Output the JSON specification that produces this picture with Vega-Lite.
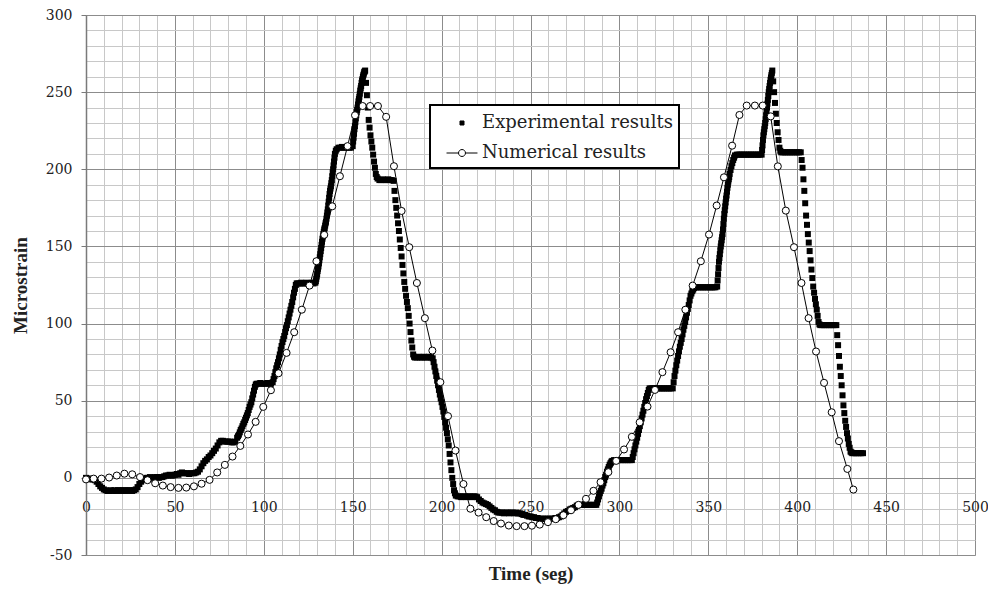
{
  "$schema": "https://vega.github.io/schema/vega-lite/v6.json",
  "autosize": {"type": "none"},
  "width": 889,
  "height": 540,
  "padding": {"left": 86, "top": 15, "right": 13, "bottom": 40},
  "background": "white",
  "config": {
    "view": {"stroke": "#8c8c8c", "strokeWidth": 1},
    "font": "DejaVu Serif",
    "legend": {"strokeWidth": 2, "symbolStrokeColor": "black", "symbolStrokeWidth": 1}
  },
  "datasets": {
    "exp": [
      {"t":0,"v":0},{"t":1,"v":-0.5},{"t":2,"v":-0.5},{"t":3,"v":-1},{"t":4,"v":-1},{"t":5,"v":-1.5},{"t":6,"v":-2.5},{"t":7,"v":-4},{"t":8,"v":-5.5},{"t":9,"v":-6.5},
      {"t":10,"v":-7.5},{"t":11,"v":-8},{"t":12,"v":-8.5},{"t":13,"v":-8.5},{"t":14,"v":-8},{"t":15,"v":-8.5},{"t":16,"v":-8},{"t":17,"v":-8.5},{"t":18,"v":-8},{"t":19,"v":-8},
      {"t":20,"v":-8.5},{"t":21,"v":-8},{"t":22,"v":-8},{"t":23,"v":-8.5},{"t":24,"v":-8},{"t":25,"v":-8},{"t":26,"v":-8.5},{"t":27,"v":-8},{"t":28,"v":-7.5},{"t":29,"v":-6},
      {"t":30,"v":-4},{"t":31,"v":-2.5},{"t":32,"v":-1.5},{"t":33,"v":-0.5},{"t":34,"v":0},{"t":35,"v":0},{"t":36,"v":0.5},{"t":37,"v":0},{"t":38,"v":0},{"t":39,"v":0.5},
      {"t":40,"v":0.5},{"t":41,"v":0},{"t":42,"v":0.5},{"t":43,"v":0.5},{"t":44,"v":1},{"t":45,"v":1.5},{"t":46,"v":1.5},{"t":47,"v":2},{"t":48,"v":1.5},{"t":49,"v":1.5},
      {"t":50,"v":2},{"t":51,"v":2.5},{"t":52,"v":2},{"t":53,"v":3},{"t":54,"v":3.5},{"t":55,"v":3},{"t":56,"v":3},{"t":57,"v":3},{"t":58,"v":2.5},{"t":59,"v":3},
      {"t":60,"v":3},{"t":61,"v":3},{"t":62,"v":3.5},{"t":63,"v":4},{"t":64,"v":5.5},{"t":65,"v":7.5},{"t":66,"v":9.5},{"t":67,"v":11},{"t":68,"v":12},{"t":69,"v":13.5},
      {"t":70,"v":14.5},{"t":71,"v":16},{"t":72,"v":17.5},{"t":73,"v":19},{"t":74,"v":21},{"t":75,"v":23},{"t":76,"v":24},{"t":77,"v":24},{"t":78,"v":23.5},{"t":79,"v":23.5},
      {"t":80,"v":23.5},{"t":81,"v":23.5},{"t":82,"v":23},{"t":83,"v":23},{"t":84,"v":23.5},
      {"t":85,"v":26},{"t":85.5,"v":27},{"t":86,"v":28},{"t":86.5,"v":29.5},{"t":87,"v":31},{"t":87.5,"v":32},{"t":88,"v":33.5},{"t":88.5,"v":35},{"t":89,"v":36},{"t":89.5,"v":37.5},
      {"t":90,"v":39},{"t":90.5,"v":40.5},{"t":91,"v":42},{"t":91.5,"v":44},{"t":92,"v":46},{"t":92.5,"v":47.5},{"t":93,"v":49},{"t":93.5,"v":51.5},{"t":94,"v":54},{"t":94.5,"v":56.5},
      {"t":95,"v":59},{"t":95.5,"v":60.5},{"t":96,"v":61},{"t":97,"v":61},{"t":98,"v":61.5},{"t":99,"v":61},
      {"t":100,"v":61},{"t":101,"v":61},{"t":102,"v":61.5},{"t":103,"v":61},{"t":104,"v":61},
      {"t":105,"v":62},{"t":105.5,"v":64},{"t":106,"v":66},{"t":106.5,"v":68.5},{"t":107,"v":71},{"t":107.5,"v":73},{"t":108,"v":75},{"t":108.5,"v":77.5},{"t":109,"v":80},{"t":109.5,"v":83},
      {"t":110,"v":85.5},{"t":110.5,"v":88},{"t":111,"v":90},{"t":111.5,"v":92},{"t":112,"v":94.5},{"t":112.5,"v":97},{"t":113,"v":99},{"t":113.5,"v":101.5},{"t":114,"v":104},{"t":114.5,"v":106.5},
      {"t":115,"v":109},{"t":115.5,"v":111.5},{"t":116,"v":114},{"t":116.5,"v":117},{"t":117,"v":120},{"t":117.5,"v":122.5},{"t":118,"v":125},{"t":118.5,"v":126},{"t":119,"v":126},
      {"t":120,"v":126},{"t":121,"v":126.5},{"t":122,"v":126},{"t":123,"v":126},{"t":124,"v":126.5},{"t":125,"v":126},{"t":126,"v":126},{"t":127,"v":126.5},{"t":128,"v":126},
      {"t":129,"v":126.5},{"t":129.25,"v":127.5},{"t":129.5,"v":129},{"t":129.75,"v":130.5},{"t":130,"v":132},{"t":130.25,"v":134},{"t":130.5,"v":135.5},{"t":130.75,"v":137},
      {"t":131,"v":139},{"t":131.25,"v":141},{"t":131.5,"v":143},{"t":131.75,"v":145},{"t":132,"v":147},{"t":132.25,"v":149},{"t":132.5,"v":151},{"t":132.75,"v":153},
      {"t":133,"v":155},{"t":133.25,"v":156.5},{"t":133.5,"v":158},{"t":133.75,"v":159.5},{"t":134,"v":161},{"t":134.25,"v":162},{"t":134.5,"v":163.5},{"t":134.75,"v":165},
      {"t":135,"v":166},{"t":135.25,"v":168},{"t":135.5,"v":170},{"t":135.75,"v":172},{"t":136,"v":174},{"t":136.25,"v":176.5},{"t":136.5,"v":179},{"t":136.75,"v":181.5},
      {"t":137,"v":184},{"t":137.25,"v":186},{"t":137.5,"v":187.5},{"t":137.75,"v":189},{"t":138,"v":191},{"t":138.25,"v":193},{"t":138.5,"v":195.5},{"t":138.75,"v":198},
      {"t":139,"v":200},{"t":139.25,"v":202.5},{"t":139.5,"v":205},{"t":139.75,"v":207.5},{"t":140,"v":210},{"t":140.5,"v":212},{"t":141,"v":213},{"t":142,"v":214},{"t":143,"v":214},{"t":144,"v":214.5},
      {"t":145,"v":214},{"t":146,"v":214},{"t":147,"v":214.5},{"t":148,"v":214},{"t":149,"v":214},
      {"t":150,"v":215},{"t":150.25,"v":218},{"t":150.5,"v":220.5},{"t":150.75,"v":223},{"t":151,"v":226},{"t":151.25,"v":228},{"t":151.5,"v":230.5},{"t":151.75,"v":233},
      {"t":152,"v":235},{"t":152.25,"v":237},{"t":152.5,"v":238.5},{"t":152.75,"v":240},{"t":153,"v":242},{"t":153.25,"v":244},{"t":153.5,"v":245.5},{"t":153.75,"v":247},
      {"t":154,"v":249},{"t":154.25,"v":251},{"t":154.5,"v":252.5},{"t":154.75,"v":254},{"t":155,"v":256},{"t":155.25,"v":257.5},{"t":155.5,"v":258.5},{"t":155.75,"v":260},
      {"t":156,"v":261},{"t":156.25,"v":262},{"t":156.5,"v":263},{"t":156.75,"v":263.5},{"t":157,"v":264},{"t":157.5,"v":256},{"t":158,"v":248},{"t":158.5,"v":240},{"t":159,"v":232},{"t":159.5,"v":227},
      {"t":160,"v":222},{"t":160.5,"v":218},{"t":161,"v":214},{"t":161.5,"v":209.5},{"t":162,"v":205},{"t":162.5,"v":201},{"t":163,"v":197},{"t":163.5,"v":195},{"t":164,"v":194},
      {"t":165,"v":193},{"t":166,"v":193},{"t":167,"v":193.5},{"t":168,"v":193},{"t":169,"v":193},{"t":170,"v":193.5},{"t":171,"v":193},{"t":172,"v":193},
      {"t":173,"v":192.5},{"t":173.5,"v":186},{"t":174,"v":180},{"t":174.5,"v":175},{"t":175,"v":170},{"t":175.5,"v":165},{"t":176,"v":160},{"t":176.5,"v":154.5},{"t":177,"v":149},{"t":177.5,"v":143.5},
      {"t":178,"v":138},{"t":178.5,"v":132.5},{"t":179,"v":127},{"t":179.5,"v":122.5},{"t":180,"v":118},{"t":180.5,"v":114},{"t":181,"v":110},{"t":181.5,"v":105},{"t":182,"v":100},{"t":182.5,"v":94.5},
      {"t":183,"v":89},{"t":183.5,"v":84.5},{"t":184,"v":80},{"t":184.5,"v":78.5},{"t":185,"v":78},{"t":186,"v":78},{"t":187,"v":78.5},{"t":188,"v":78},{"t":189,"v":78},
      {"t":190,"v":78.5},{"t":191,"v":78},{"t":192,"v":78},{"t":193,"v":78.5},{"t":194,"v":78},
      {"t":195,"v":77.5},{"t":195.5,"v":75},{"t":196,"v":72},{"t":196.5,"v":69},{"t":197,"v":66},{"t":197.5,"v":63},{"t":198,"v":60},{"t":198.5,"v":57},{"t":199,"v":54},{"t":199.5,"v":51.5},
      {"t":200,"v":49},{"t":200.5,"v":46},{"t":201,"v":43},{"t":201.5,"v":39.5},{"t":202,"v":36},{"t":202.5,"v":32.5},{"t":203,"v":29},{"t":203.5,"v":25},{"t":204,"v":21},{"t":204.5,"v":15.5},
      {"t":205,"v":10},{"t":205.5,"v":5},{"t":206,"v":0},{"t":206.5,"v":-4},{"t":207,"v":-8},{"t":207.5,"v":-10},{"t":208,"v":-11.5},{"t":209,"v":-12},
      {"t":210,"v":-12},{"t":211,"v":-12.5},{"t":212,"v":-12},{"t":213,"v":-12},{"t":214,"v":-12.5},{"t":215,"v":-12},{"t":216,"v":-12},{"t":217,"v":-12.5},{"t":218,"v":-12},{"t":219,"v":-12},
      {"t":220,"v":-12.5},{"t":221,"v":-14},{"t":222,"v":-15},{"t":223,"v":-16},{"t":224,"v":-16.5},{"t":225,"v":-17},{"t":226,"v":-17.5},{"t":227,"v":-18.5},{"t":228,"v":-19.5},{"t":229,"v":-20.5},
      {"t":230,"v":-21},{"t":231,"v":-22},{"t":232,"v":-22.5},{"t":233,"v":-22.5},{"t":234,"v":-22.5},{"t":235,"v":-23},{"t":236,"v":-22.5},{"t":237,"v":-22.5},{"t":238,"v":-23},{"t":239,"v":-22.5},
      {"t":240,"v":-22.5},{"t":241,"v":-23},{"t":242,"v":-22.5},{"t":243,"v":-23},{"t":244,"v":-23},{"t":245,"v":-23.5},{"t":246,"v":-24},{"t":247,"v":-24},{"t":248,"v":-24.5},{"t":249,"v":-25},
      {"t":250,"v":-25},{"t":251,"v":-25.5},{"t":252,"v":-25.5},{"t":253,"v":-26},{"t":254,"v":-26},{"t":255,"v":-26.5},{"t":256,"v":-26.5},{"t":257,"v":-26.5},{"t":258,"v":-26.5},{"t":259,"v":-26.5},
      {"t":260,"v":-26.5},{"t":261,"v":-26.5},{"t":262,"v":-26.5},{"t":263,"v":-26.5},{"t":264,"v":-26},{"t":265,"v":-26},{"t":266,"v":-25.5},{"t":267,"v":-25},{"t":268,"v":-24},{"t":269,"v":-23},
      {"t":270,"v":-22},{"t":271,"v":-21.5},{"t":272,"v":-20.5},{"t":273,"v":-20},{"t":274,"v":-19.5},{"t":275,"v":-19},{"t":276,"v":-18},{"t":277,"v":-17.5},{"t":278,"v":-17.5},{"t":279,"v":-17.5},
      {"t":280,"v":-17.5},{"t":281,"v":-17.5},{"t":282,"v":-17.5},{"t":283,"v":-17.5},{"t":284,"v":-17.5},{"t":285,"v":-17.5},{"t":286,"v":-17.5},
      {"t":287,"v":-17.5},{"t":287.5,"v":-16},{"t":288,"v":-14},{"t":288.5,"v":-12},{"t":289,"v":-10},{"t":289.5,"v":-8.5},{"t":290,"v":-7},{"t":290.5,"v":-5},{"t":291,"v":-3.5},{"t":291.5,"v":-1.5},
      {"t":292,"v":0.5},{"t":292.5,"v":2},{"t":293,"v":4},{"t":293.5,"v":5.5},{"t":294,"v":7},{"t":294.5,"v":8.5},{"t":295,"v":9.5},{"t":295.5,"v":10.5},{"t":296,"v":11},{"t":297,"v":11.5},
      {"t":298,"v":11.5},{"t":299,"v":11.5},{"t":300,"v":11.5},{"t":301,"v":11.5},{"t":302,"v":11.5},{"t":303,"v":11.5},{"t":304,"v":11.5},{"t":305,"v":11.5},{"t":306,"v":11.5},
      {"t":307,"v":11.5},{"t":307.5,"v":13.5},{"t":308,"v":16},{"t":308.5,"v":18.5},{"t":309,"v":21},{"t":309.5,"v":23.5},{"t":310,"v":26},{"t":310.5,"v":28.5},{"t":311,"v":31},{"t":311.5,"v":33.5},
      {"t":312,"v":36},{"t":312.5,"v":38.5},{"t":313,"v":41},{"t":313.5,"v":43.5},{"t":314,"v":46},{"t":314.5,"v":48.5},{"t":315,"v":51},{"t":315.5,"v":53},{"t":316,"v":55},{"t":316.5,"v":57},
      {"t":317,"v":58},{"t":318,"v":58},{"t":319,"v":58},{"t":320,"v":58},{"t":321,"v":58},{"t":322,"v":58},{"t":323,"v":58},{"t":324,"v":58},{"t":325,"v":58},{"t":326,"v":58},
      {"t":327,"v":58},{"t":328,"v":58},{"t":329,"v":58},
      {"t":330,"v":58},{"t":330.5,"v":62},{"t":331,"v":66},{"t":331.5,"v":69.5},{"t":332,"v":73},{"t":332.5,"v":76},{"t":333,"v":79},{"t":333.5,"v":82},{"t":334,"v":85},{"t":334.5,"v":87.5},
      {"t":335,"v":90},{"t":335.5,"v":93},{"t":336,"v":96},{"t":336.5,"v":98.5},{"t":337,"v":101},{"t":337.5,"v":104},{"t":338,"v":107},{"t":338.5,"v":109.5},{"t":339,"v":112},{"t":339.5,"v":115},
      {"t":340,"v":118},{"t":340.5,"v":119.5},{"t":341,"v":121},{"t":341.5,"v":122},{"t":342,"v":123},{"t":343,"v":123.5},{"t":344,"v":123.5},{"t":345,"v":123.5},{"t":346,"v":123.5},{"t":347,"v":123.5},
      {"t":348,"v":123.5},{"t":349,"v":123.5},{"t":350,"v":123.5},{"t":351,"v":123.5},{"t":352,"v":123.5},{"t":353,"v":123.5},{"t":354,"v":123.5},
      {"t":355,"v":124},{"t":355.25,"v":128},{"t":355.5,"v":132},{"t":355.75,"v":136},{"t":356,"v":140},{"t":356.25,"v":142.5},{"t":356.5,"v":145},{"t":356.75,"v":147.5},
      {"t":357,"v":150},{"t":357.25,"v":152},{"t":357.5,"v":154},{"t":357.75,"v":156},{"t":358,"v":158},{"t":358.25,"v":161},{"t":358.5,"v":164.5},{"t":358.75,"v":168},
      {"t":359,"v":171},{"t":359.25,"v":173.5},{"t":359.5,"v":176},{"t":359.75,"v":178.5},{"t":360,"v":181},{"t":360.25,"v":183},{"t":360.5,"v":185.5},{"t":360.75,"v":188},
      {"t":361,"v":190},{"t":361.25,"v":192},{"t":361.5,"v":193.5},{"t":361.75,"v":195},{"t":362,"v":197},{"t":362.5,"v":199.5},{"t":363,"v":202},{"t":363.5,"v":204},{"t":364,"v":206},{"t":364.5,"v":207.5},
      {"t":365,"v":209},{"t":366,"v":209.5},{"t":367,"v":209.5},{"t":368,"v":209.5},{"t":369,"v":209.5},{"t":370,"v":209.5},{"t":371,"v":209.5},{"t":372,"v":209.5},{"t":373,"v":209.5},{"t":374,"v":209.5},
      {"t":375,"v":209.5},{"t":376,"v":209.5},{"t":377,"v":209.5},{"t":378,"v":209.5},{"t":379,"v":209.5},
      {"t":380,"v":209.5},{"t":380.25,"v":212.5},{"t":380.5,"v":215.5},{"t":380.75,"v":219},{"t":381,"v":222},{"t":381.25,"v":224},{"t":381.5,"v":226},{"t":381.75,"v":228},
      {"t":382,"v":230},{"t":382.25,"v":232.5},{"t":382.5,"v":235},{"t":382.75,"v":237.5},{"t":383,"v":240},{"t":383.25,"v":242.5},{"t":383.5,"v":245},{"t":383.75,"v":247.5},
      {"t":384,"v":250},{"t":384.25,"v":252},{"t":384.5,"v":254},{"t":384.75,"v":256},{"t":385,"v":258},{"t":385.25,"v":259.5},{"t":385.5,"v":261},{"t":385.75,"v":262.5},
      {"t":386,"v":264},{"t":386.5,"v":257},{"t":387,"v":250},{"t":387.5,"v":243},{"t":388,"v":236},{"t":388.5,"v":230},{"t":389,"v":224},{"t":389.5,"v":219},{"t":390,"v":214},{"t":390.5,"v":212},
      {"t":391,"v":211},{"t":392,"v":211},{"t":393,"v":211},{"t":394,"v":211},{"t":395,"v":211},{"t":396,"v":211},{"t":397,"v":211},{"t":398,"v":211},{"t":399,"v":211},
      {"t":400,"v":211},{"t":401,"v":211},{"t":402,"v":211},{"t":402.5,"v":206},{"t":403,"v":201},{"t":403.5,"v":193.5},{"t":404,"v":186},{"t":404.5,"v":178},{"t":405,"v":170},{"t":405.5,"v":164},
      {"t":406,"v":158},{"t":406.5,"v":152.5},{"t":407,"v":147},{"t":407.5,"v":141},{"t":408,"v":135},{"t":408.5,"v":129.5},{"t":409,"v":124},{"t":409.5,"v":120},
      {"t":410,"v":116},{"t":410.5,"v":112.5},{"t":411,"v":109},{"t":411.5,"v":105},{"t":412,"v":101},{"t":412.5,"v":99.5},{"t":413,"v":99},{"t":414,"v":99},{"t":415,"v":99},{"t":416,"v":99},
      {"t":417,"v":99},{"t":418,"v":99},{"t":419,"v":99},{"t":420,"v":99},{"t":421,"v":99},
      {"t":422,"v":99},{"t":422.5,"v":92.5},{"t":423,"v":86},{"t":423.5,"v":79},{"t":424,"v":72},{"t":424.5,"v":66},{"t":425,"v":60},{"t":425.5,"v":53.5},{"t":426,"v":47},{"t":426.5,"v":42},
      {"t":427,"v":37},{"t":427.5,"v":33},{"t":428,"v":29},{"t":428.5,"v":25.5},{"t":429,"v":22},{"t":429.5,"v":19.5},{"t":430,"v":17},{"t":430.5,"v":16.5},
      {"t":431,"v":16},{"t":432,"v":16},{"t":433,"v":16},{"t":434,"v":16},{"t":435,"v":16},{"t":436,"v":16},{"t":437,"v":16}
    ],
    "num": [
      {"t":0,"v":-1},{"t":4.3,"v":-0.5},{"t":8.7,"v":-0.5},{"t":13.0,"v":0.2},{"t":17.3,"v":1.5},{"t":21.6,"v":2.7},{"t":26.0,"v":2.3},{"t":30.4,"v":0.5},{"t":34.6,"v":-1.5},{"t":38.9,"v":-3.5},
      {"t":43.2,"v":-5},{"t":47.6,"v":-6},{"t":52.0,"v":-6.5},{"t":56.4,"v":-6.3},{"t":60.7,"v":-5.5},{"t":65.0,"v":-3.8},{"t":69.5,"v":-1.3},{"t":73.8,"v":3.5},{"t":78.1,"v":8.4},{"t":82.4,"v":13.8},
      {"t":86.8,"v":20.7},{"t":91.1,"v":28.1},{"t":95.4,"v":36.3},{"t":99.7,"v":46},{"t":104.0,"v":56.8},{"t":108.3,"v":67.8},{"t":112.8,"v":81},{"t":117.1,"v":94.4},{"t":121.4,"v":109},{"t":125.7,"v":124.6},
      {"t":129.6,"v":140.4},{"t":134.0,"v":157.5},{"t":138.5,"v":176},{"t":142.8,"v":195.5},{"t":147.1,"v":215},{"t":151.3,"v":235},{"t":155.6,"v":241},{"t":159.8,"v":241},{"t":164.2,"v":241},{"t":168.8,"v":234},
      {"t":173.2,"v":202},{"t":177.5,"v":173},{"t":181.8,"v":149.5},{"t":186.1,"v":126.3},{"t":190.6,"v":103.5},{"t":194.8,"v":82.5},{"t":199.3,"v":62},{"t":203.6,"v":40},{"t":207.8,"v":17.7},{"t":212.3,"v":-4},
      {"t":216.2,"v":-20},{"t":220.8,"v":-22.5},{"t":225.1,"v":-25.5},{"t":229.3,"v":-28},{"t":233.4,"v":-29.6},{"t":237.8,"v":-30.9},{"t":242.2,"v":-31.3},{"t":246.6,"v":-31.3},{"t":250.8,"v":-31},{"t":255.2,"v":-30.3},
      {"t":259.8,"v":-28.7},{"t":264.2,"v":-26.8},{"t":268.5,"v":-24.2},{"t":272.8,"v":-21},{"t":277.0,"v":-17.5},{"t":281.2,"v":-13.6},{"t":285.4,"v":-8.4},{"t":289.4,"v":-2.8},{"t":293.8,"v":3.7},{"t":298.2,"v":11},
      {"t":302.6,"v":18.4},{"t":307.0,"v":26.6},{"t":311.4,"v":36},{"t":315.8,"v":46.2},{"t":320.0,"v":57},{"t":324.2,"v":68.5},{"t":328.8,"v":81.4},{"t":333.0,"v":94.4},{"t":337.1,"v":109},{"t":341.2,"v":124.6},
      {"t":345.8,"v":140.4},{"t":350.4,"v":157.7},{"t":354.7,"v":176.5},{"t":358.8,"v":194.8},{"t":363.4,"v":215.3},{"t":367.5,"v":235.2},{"t":371.6,"v":241.3},{"t":376.2,"v":241.3},{"t":380.6,"v":241.3},{"t":385.1,"v":234.3},
      {"t":389.1,"v":201.9},{"t":393.6,"v":173.2},{"t":398.2,"v":149.5},{"t":402.4,"v":126.3},{"t":406.4,"v":103.5},{"t":410.6,"v":81.9},{"t":415.1,"v":61.6},{"t":419.4,"v":42.5},{"t":423.5,"v":23.8},{"t":428.2,"v":5.8},
      {"t":431.6,"v":-7.6}
    ]
  },
  "layer": [
    {
      "data": {"name": "exp"},
      "mark": {"type": "point", "filled": true, "opacity": 1, "size": 1290},
      "encoding": {
        "x": {"field": "t", "type": "quantitative",
          "scale": {"domain": [0, 500], "nice": false, "zero": false},
          "axis": {"orient": "bottom", "values": [0,10,20,30,40,50,60,70,80,90,100,110,120,130,140,150,160,170,180,190,200,210,220,230,240,250,260,270,280,290,300,310,320,330,340,350,360,370,380,390,400,410,420,430,440,450,460,470,480,490,500],
            "grid": true, "gridColor": "#c8c8c8", "gridWidth": 1, "labels": false, "ticks": false, "domain": false, "title": null}},
        "y": {"field": "v", "type": "quantitative",
          "scale": {"domain": [-50, 300], "nice": false, "zero": false},
          "axis": {"orient": "left", "values": [-50,-40,-30,-20,-10,0,10,20,30,40,50,60,70,80,90,100,110,120,130,140,150,160,170,180,190,200,210,220,230,240,250,260,270,280,290,300],
            "grid": true, "gridColor": "#c8c8c8", "gridWidth": 1, "labels": false, "ticks": false, "domain": false, "title": null}},
        "shape": {"datum": "Experimental results",
          "scale": {"domain": ["Experimental results", "Numerical results"],
            "range": ["M-0.167,-0.167H0.167V0.167H-0.167Z", "M-1.29,0L-0.29,0M0.29,0L1.29,0M0.29,0A0.29,0.29,0,1,1,-0.29,0A0.29,0.29,0,1,1,0.29,0Z"]},
          "legend": {"title": null, "orient": "none", "legendX": 344, "legendY": 90, "direction": "vertical",
            "padding": 5.5, "symbolOffset": 14, "labelOffset": 7.5, "rowPadding": 8, "symbolSize": 576,
            "labelFont": "DejaVu Serif", "labelFontSize": 18,
            "labelColor": "#222222", "labelLimit": 400, "strokeColor": "black", "fillColor": "white"}},
        "fill": {"datum": "Experimental results",
          "scale": {"domain": ["Experimental results", "Numerical results"], "range": ["black", "white"]},
          "legend": {"title": null, "orient": "none", "legendX": 344, "legendY": 90, "direction": "vertical",
            "padding": 5.5, "symbolOffset": 14, "labelOffset": 7.5, "rowPadding": 8, "symbolSize": 576,
            "labelFont": "DejaVu Serif", "labelFontSize": 18,
            "labelColor": "#222222", "labelLimit": 400, "strokeColor": "black", "fillColor": "white"}}
      }
    },
    {
      "data": {"name": "num"},
      "mark": {"type": "line", "color": "black", "strokeWidth": 1},
      "encoding": {
        "x": {"field": "t", "type": "quantitative",
          "axis": {"orient": "bottom", "offset": -77, "values": [0,50,100,150,200,250,300,350,400,450,500],
            "grid": true, "gridColor": "#8c8c8c", "gridWidth": 1, "domain": false, "ticks": false,
            "labelPadding": 22, "labelFont": "DejaVu Serif", "labelFontSize": 14, "labelColor": "#222222",
            "labelFlush": false, "labelOverlap": false,
            "title": "Time (seg)", "titleFont": "Liberation Serif", "titleFontSize": 19, "titleFontWeight": "bold",
            "titleColor": "#222222", "titlePadding": 50}},
        "y": {"field": "v", "type": "quantitative",
          "axis": {"orient": "left", "values": [-50,0,50,100,150,200,250,300],
            "grid": true, "gridColor": "#8c8c8c", "gridWidth": 1, "domain": true, "domainColor": "#7a7a7a", "domainWidth": 1.5,
            "ticks": true, "tickSize": 5, "tickColor": "#7a7a7a", "tickWidth": 1,
            "labelPadding": 9, "labelFont": "DejaVu Serif", "labelFontSize": 14, "labelColor": "#222222",
            "labelFlush": false, "labelOverlap": false, "labelExpr": "'' + datum.value",
            "title": "Microstrain", "titleFont": "Liberation Serif", "titleFontSize": 19, "titleFontWeight": "bold",
            "titleColor": "#222222", "titlePadding": 15}}
      }
    },
    {
      "data": {"name": "num"},
      "mark": {"type": "point", "shape": "circle", "filled": true, "opacity": 1, "size": 50, "stroke": "black", "strokeWidth": 1},
      "encoding": {
        "x": {"field": "t", "type": "quantitative", "axis": null},
        "y": {"field": "v", "type": "quantitative", "axis": null},
        "fill": {"datum": "Numerical results",
          "scale": {"domain": ["Experimental results", "Numerical results"], "range": ["black", "white"]},
          "legend": {"title": null, "orient": "none", "legendX": 344, "legendY": 90, "direction": "vertical",
            "padding": 5.5, "symbolOffset": 14, "labelOffset": 7.5, "rowPadding": 8, "symbolSize": 576,
            "labelFont": "DejaVu Serif", "labelFontSize": 18,
            "labelColor": "#222222", "labelLimit": 400, "strokeColor": "black", "fillColor": "white"}},
        "stroke": {"datum": "Numerical results",
          "scale": {"domain": ["Experimental results", "Numerical results"], "range": ["black", "black"]},
          "legend": {"title": null, "orient": "none", "legendX": 344, "legendY": 90, "direction": "vertical",
            "padding": 5.5, "symbolOffset": 14, "labelOffset": 7.5, "rowPadding": 8, "symbolSize": 576,
            "labelFont": "DejaVu Serif", "labelFontSize": 18,
            "labelColor": "#222222", "labelLimit": 400, "strokeColor": "black", "fillColor": "white"}}
      }
    }
  ],
  "resolve": {"axis": {"x": "independent", "y": "independent"}}
}
